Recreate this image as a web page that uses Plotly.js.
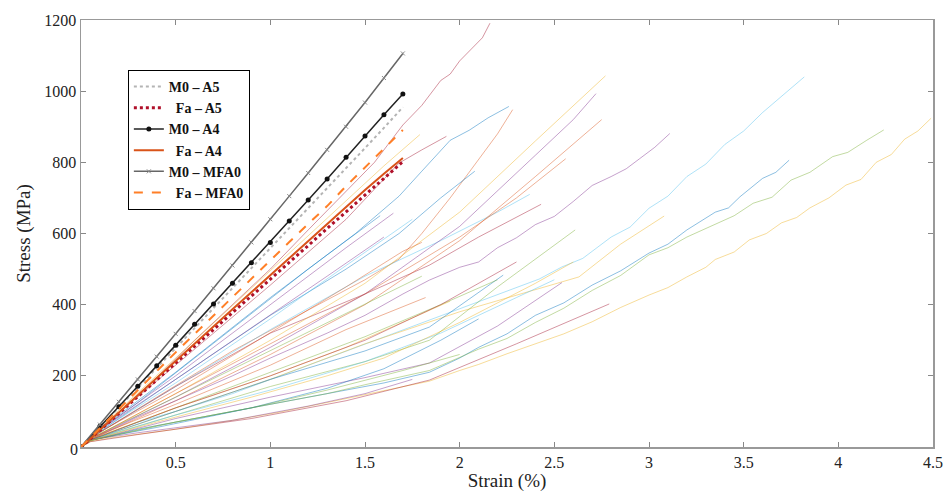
<!DOCTYPE html>
<html><head><meta charset="utf-8">
<script src="https://cdn.plot.ly/plotly-3.0.1.min.js"></script>
<style>html,body{margin:0;padding:0;background:#fff}</style>
</head><body>
<div id="chart" style="width:947px;height:492px"></div>
<script>
// ---- named series (strain %, stress MPa) ----
const strainStep = [0,0.1,0.2,0.3,0.4,0.5,0.6,0.7,0.8,0.9,1.0,1.1,1.2,1.3,1.4,1.5,1.6,1.7];
const M0_A5   = [0,55,110,166,222,278,334,390,446,502,558,614,670,726,783,840,897,955];
const Fa_A5   = [0,47,94,142,189,236,283,330,378,425,472,519,566,614,661,708,755,802];
const M0_A4   = [0,58,113,171,228,286,345,402,460,518,575,635,694,753,814,874,934,992];
const Fa_A4   = [0,49,97,146,194,242,291,339,387,435,483,531,579,627,675,722,768,812];
const M0_MFA0 = [0,63,127,190,254,318,382,446,510,575,640,705,770,835,900,968,1037,1106];
const Fa_MFA0 = [0,54,107,160,213,266,318,370,422,474,525,576,627,677,733,786,839,891];
const namedLabels = ['M0 \u2013 A5','\u00a0\u00a0Fa \u2013 A5','M0 \u2013 A4','\u00a0\u00a0Fa \u2013 A4','M0 \u2013 MFA0','\u00a0\u00a0Fa \u2013 MFA0'];

// ---- thin experimental curves ----
const t01x=[0,0.05,0.2,0.4,0.6,0.8,1.0,1.2,1.4,1.55,1.7,1.8,1.9,1.95,2.0,2.08,2.12,2.16];
const t01y=[0,30,95,195,300,400,500,610,720,800,905,960,1030,1048,1085,1130,1150,1191];
const t02x=[0,0.05,0.3,0.6,0.9,1.2,1.45,1.68,1.8,1.95,2.05,2.15,2.26];
const t02y=[0,28,125,250,375,500,600,705,775,862,890,925,957];
const t03x=[0,0.05,0.4,0.8,1.2,1.5,1.68,1.8,1.95,2.1,2.2,2.28];
const t03y=[0,25,140,270,385,470,528,600,700,810,880,948];
const t04x=[0,0.05,0.5,1.0,1.4,1.68,1.9,2.08];
const t04y=[0,25,190,370,500,600,700,775];
const t05x=[0,0.05,0.5,1.0,1.4,1.68,1.8,1.93];
const t05y=[0,30,230,455,640,798,835,873];
const t06x=[0,0.05,0.5,1.0,1.4,1.6,1.79];
const t06y=[0,30,250,495,690,790,878];
const t07x=[0,0.05,0.5,1.0,1.5,1.9,2.2,2.37];
const t07y=[0,25,170,330,480,580,660,710];
const t08x=[0,0.05,0.5,1.0,1.5,1.84,2.1,2.43];
const t08y=[0,25,170,320,430,511,590,682];
const t09x=[0,0.05,0.5,1.0,1.5,2.0,2.4,2.6,2.77];
const t09y=[0,22,150,300,460,660,860,960,1043];
const t10x=[0,0.05,0.5,1.0,1.5,2.0,2.4,2.6,2.72];
const t10y=[0,22,140,280,430,620,820,920,993];
const t11x=[0,0.05,0.5,1.0,1.5,2.0,2.4,2.6,2.75];
const t11y=[0,20,130,260,400,580,760,850,920];
const t12x=[0,0.05,0.5,1.0,1.5,2.0,2.3,2.56];
const t12y=[0,22,150,290,430,590,700,810];
const t13x=[0,0.05,0.3,0.5,0.8,1.0,1.3,1.5,1.7,1.84,2.0,2.1,2.2,2.3,2.4,2.5,2.6,2.7,2.8,2.88,2.95,3.03,3.11];
const t13y=[0,20,85,130,200,250,320,370,430,469,505,520,560,588,625,648,690,735,760,782,810,842,881];
const t14x=[0,0.05,0.3,0.5,0.8,1.0,1.3,1.5,1.8,2.0,2.15,2.3,2.42,2.54,2.65,2.8,2.9,3.0,3.1,3.2,3.3,3.4,3.5,3.6,3.7,3.82];
const t14y=[0,18,70,100,150,190,250,290,350,390,418,450,472,506,530,590,618,671,705,760,795,850,888,940,985,1040];
const t15x=[0,0.05,0.5,1.0,1.5,2.0,2.63,2.85,3.08];
const t15y=[0,18,100,190,290,380,478,570,649];
const t16x=[0,0.05,0.3,0.6,0.8,1.1,1.3,1.6,1.84,2.0,2.1,2.25,2.4,2.55,2.7,2.85,3.0,3.1,3.2,3.35,3.42,3.48,3.6,3.67,3.74];
const t16y=[0,18,50,80,100,128,150,180,210,250,280,318,370,405,455,495,545,570,610,660,672,703,755,772,806];
const t17x=[0,0.05,0.2,0.5,0.8,1.0,1.3,1.5,1.84,2.1,2.25,2.4,2.55,2.7,2.85,3.0,3.1,3.2,3.36,3.45,3.55,3.65,3.75,3.85,3.97,4.05,4.15,4.24];
const t17y=[0,18,35,70,100,120,150,175,215,275,305,350,390,440,482,540,560,590,629,650,685,702,750,772,816,828,862,891];
const t18x=[0,0.05,0.15,0.3,0.5,0.8,1.05,1.3,1.55,1.84,2.0,2.1,2.25,2.4,2.55,2.7,2.85,3.0,3.1,3.2,3.3,3.35,3.45,3.53,3.62,3.7,3.78,3.85,3.95,4.04,4.12,4.2,4.28,4.35,4.42,4.49];
const t18y=[0,15,25,35,50,75,98,125,152,185,215,232,262,290,318,352,392,427,448,478,505,527,548,582,600,630,645,672,700,736,752,800,822,865,888,924];
const t19x=[0,0.05,0.3,0.9,1.4,1.84,2.3,2.79];
const t19y=[0,15,35,80,130,188,290,402];
const t20x=[0,0.05,0.5,1.0,1.5,1.84,2.23];
const t20y=[0,20,100,190,270,337,483];
const t21x=[0,0.05,0.5,1.0,1.5,1.84,2.2,2.54];
const t21y=[0,18,80,140,195,236,340,462];
const t22x=[0,0.05,0.5,1.0,1.5,1.84,2.2,2.61];
const t22y=[0,18,90,170,240,300,450,610];
const t23x=[0,0.05,0.5,1.0,1.4,1.82];
const t23y=[0,25,120,230,330,420];
const t24x=[0,0.05,0.5,1.0,1.4,1.65];
const t24y=[0,30,200,400,560,657];
const t25x=[0,0.05,0.5,1.0,1.5,1.9,2.2];
const t25y=[0,20,110,210,310,400,470];
const t26x=[0,0.05,0.4,0.9,1.3,1.6,1.9,2.1];
const t26y=[0,20,55,110,165,220,300,360];
const t27x=[0,0.05,0.3,0.8,1.2,1.5,1.75];
const t27y=[0,20,40,75,115,150,190];
const t28x=[0,0.05,0.5,1.0,1.4,1.7,1.95];
const t28y=[0,22,110,200,280,350,410];
const t29x=[0,0.05,0.5,1.0,1.5,1.9,2.3,2.5];
const t29y=[0,20,90,160,240,320,420,470];
const t30x=[0,0.05,0.4,0.9,1.3,1.7,2.0];
const t30y=[0,18,60,110,160,215,260];
const t31x=[0,0.05,0.5,1.0,1.4,1.7,1.8];
const t31y=[0,28,160,320,450,550,575];
const t32x=[0,0.05,0.5,1.0,1.3,1.6];
const t32y=[0,30,190,370,480,590];
const t33x=[0,0.05,0.5,1.0,1.3,1.58];
const t33y=[0,30,210,420,540,650];
const t34x=[0,0.05,0.5,1.0,1.4,1.75];
const t34y=[0,28,180,360,510,640];
const t35x=[0,0.05,0.5,1.0,1.5,1.9,2.3];
const t35y=[0,20,110,200,300,400,520];
const t36x=[0,0.05,0.5,1.0,1.5,1.8];
const t36y=[0,25,140,270,400,480];
const t37x=[0,0.05,0.4,0.9,1.3,1.6,2.0,2.4,2.6];
const t37y=[0,18,70,140,200,250,350,460,520];

const thinX=[t01x,t02x,t03x,t04x,t05x,t06x,t07x,t08x,t09x,t10x,t11x,t12x,t13x,t14x,t15x,t16x,t17x,t18x,t19x,t20x,t21x,t22x,t23x,t24x,t25x,t26x,t27x,t28x,t29x,t30x,t31x,t32x,t33x,t34x,t35x,t36x,t37x];
const thinY=[t01y,t02y,t03y,t04y,t05y,t06y,t07y,t08y,t09y,t10y,t11y,t12y,t13y,t14y,t15y,t16y,t17y,t18y,t19y,t20y,t21y,t22y,t23y,t24y,t25y,t26y,t27y,t28y,t29y,t30y,t31y,t32y,t33y,t34y,t35y,t36y,t37y];
const C={blue:'#0072BD',orange:'#D95319',yellow:'#EDB120',purple:'#7E2F8E',green:'#77AC30',lblue:'#4DBEEE',dred:'#A2142F'};
const thinColors=['dred','blue','orange','blue','dred','yellow','lblue','dred','yellow','purple','orange','orange','purple','lblue','yellow','blue','green','yellow','dred','blue','purple','green','orange','purple','green','blue','purple','yellow','lblue','green','orange','purple','blue','lblue','dred','green','yellow'];

const xTicks=[0,0.5,1,1.5,2,2.5,3,3.5,4,4.5];
const xTickText=['','0.5','1','1.5','2','2.5','3','3.5','4','4.5'];
const yTicks=[0,200,400,600,800,1000,1200];
const yTickText=['','200','400','600','800','1000','1200'];

const traces=[];
thinX.forEach((xs,i)=>{
  traces.push({x:xs,y:thinY[i],type:'scatter',mode:'lines',showlegend:false,hoverinfo:'skip',
    opacity:0.45,line:{color:C[thinColors[i]],width:1}});
});
const namedY=[M0_A5,Fa_A5,M0_A4,Fa_A4,M0_MFA0,Fa_MFA0];
const namedStyle=[
  {mode:'lines',line:{color:'#b4b4b4',width:2,dash:'dot'}},
  {mode:'lines',line:{color:'#b0102a',width:3,dash:'dot'}},
  {mode:'lines+markers',line:{color:'#222222',width:1.5},marker:{color:'#111111',size:5,symbol:'circle'}},
  {mode:'lines',line:{color:'#D95319',width:2}},
  {mode:'lines+markers',line:{color:'#666666',width:1.5},marker:{color:'#888888',size:4,symbol:'x-thin',line:{color:'#888888',width:1}}},
  {mode:'lines',line:{color:'#ff7f27',width:2,dash:'dash'}}
];
namedY.forEach((ys,i)=>{
  traces.push(Object.assign({x:strainStep,y:ys,type:'scatter',name:namedLabels[i]},namedStyle[i]));
});

const serif='"Liberation Serif", "DejaVu Serif", serif';
const layout={
  width:947,height:492,
  margin:{l:81,r:14,t:20,b:45},
  paper_bgcolor:'#fff',plot_bgcolor:'#fff',
  font:{family:serif,color:'#222'},
  showlegend:true,
  legend:{x:0.055,y:0.883,xanchor:'left',yanchor:'top',bgcolor:'#fff',bordercolor:'#000',borderwidth:1,
    font:{family:serif,size:14,color:'#111',weight:'bold'},tracegroupgap:0},
  xaxis:{range:[0,4.5],tickmode:'array',tickvals:xTicks,ticktext:xTickText,ticks:'inside',ticklen:5,
    tickcolor:'#888',showline:true,linecolor:'#999',linewidth:1.5,mirror:'ticks',showgrid:false,zeroline:false,
    tickfont:{size:16,family:serif,color:'#222'},
    title:{text:'Strain (%)',font:{size:19,family:serif,color:'#222'},standoff:4}},
  yaxis:{range:[0,1200],tickmode:'array',tickvals:yTicks,ticktext:yTickText,ticks:'inside',ticklen:5,
    tickcolor:'#888',showline:true,linecolor:'#999',linewidth:1.5,mirror:'ticks',showgrid:false,zeroline:false,
    tickfont:{size:16,family:serif,color:'#222'},
    title:{text:'Stress (MPa)',font:{size:19,family:serif,color:'#222'},standoff:8}},
  annotations:[{text:'0',xref:'paper',yref:'paper',x:-0.015,y:-0.03,showarrow:false,
    font:{size:16,family:serif,color:'#222'}}]
};
Plotly.newPlot('chart',traces,layout,{displayModeBar:false,staticPlot:true});
</script>
</body></html>
